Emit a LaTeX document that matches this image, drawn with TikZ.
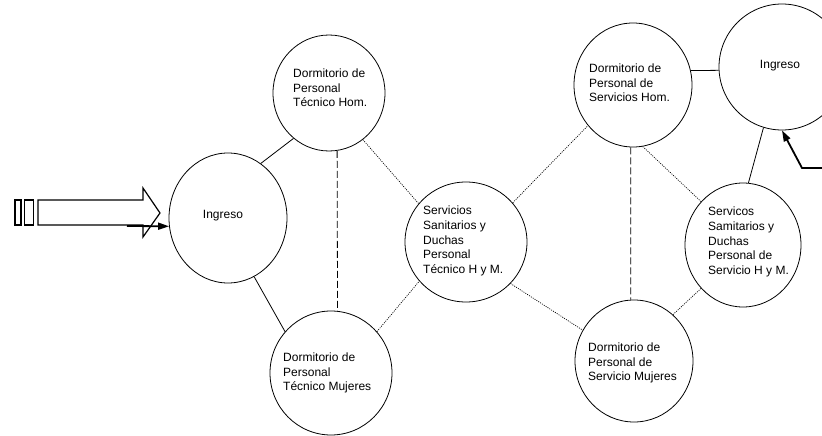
\documentclass[tikz,border=0pt]{standalone}
\usepackage{fontspec}
\setmainfont{Liberation Sans}
\newfontfamily\lblfont{Liberation Sans}
\usetikzlibrary{shapes.geometric,arrows.meta}
\begin{document}
\begin{tikzpicture}[x=1pt,y=-1pt,
  room/.style={ellipse, draw, line width=0.8pt, inner sep=0pt},
  lbl/.style={font=\lblfont\fontsize{12}{14.6}\selectfont, align=left, inner sep=0pt},
  solidlink/.style={line width=0.8pt},
  dashlink/.style={line width=0.8pt, dash pattern=on 7pt off 3pt},
  dotlink/.style={line width=0.7pt, dash pattern=on 1pt off 1.2pt},
  bigarrow/.style={line width=1.8pt, -{Triangle[length=11pt,width=7pt]}},
  blockarrow/.style={draw, line width=1.2pt}]
\useasboundingbox (0,0) rectangle (822,436);
\clip (0,0) rectangle (822,436);
% rooms
\node[room, minimum width=118pt, minimum height=130pt] (IngL) at (228,218) {};
\node[room, minimum width=112pt, minimum height=116pt] (DTH) at (329,93) {};
\node[room, minimum width=122pt, minimum height=124pt] (DTM) at (331,373) {};
\node[room, minimum width=122pt, minimum height=120pt] (SST) at (466,242) {};
\node[room, minimum width=118pt, minimum height=124pt] (DSH) at (633,85) {};
\node[room, minimum width=118pt, minimum height=122pt] (DSM) at (634,361) {};
\node[room, minimum width=116pt, minimum height=124pt] (SSS) at (743,245) {};
\node[room, minimum width=126pt, minimum height=126pt] (IngR) at (782,67) {};
% labels
\node[lbl] (tIngL) at (223,216) {Ingreso};
\node[lbl, anchor=west] (tDTH) at (293,88) {Dormitorio de\\Personal\\Técnico Hom.};
\node[lbl, anchor=west] (tDTM) at (283,373) {Dormitorio de\\Personal\\Técnico Mujeres};
\node[lbl, anchor=west] (tSST) at (423,241) {Servicios\\Sanitarios y\\Duchas\\Personal\\Técnico H y M.};
\node[lbl, anchor=west] (tDSH) at (589,83) {Dormitorio de\\Personal de\\Servicios Hom.};
\node[lbl, anchor=west] (tDSM) at (588,363) {Dormitorio de\\Personal de\\Servicio Mujeres};
\node[lbl, anchor=west] (tSSS) at (708,242) {Servicos\\Samitarios y\\Duchas\\Personal de\\Servicio H y M.};
\node[lbl] (tIngR) at (780,66) {Ingreso};
% connectors
\draw[solidlink] (IngL.59) -- (DTH.232);
\draw[solidlink] (IngL.-66) -- (DTM.138);
\draw[dashlink] (DTH.-82) -- (DTM.84);
\draw[dotlink] (DTH.-54) -- (SST.141);
\draw[dotlink] (DTM.42) -- (SST.220);
\draw[dotlink] (SST.40) -- (DSH.222);
\draw[dotlink] (SST.-43) -- (DSM.149);
\draw[dashlink] (DSH.-92) -- (DSM.93);
\draw[dotlink] (DSH.-81) -- (SSS.134);
\draw[dotlink] (DSM.50) -- (SSS.226);
\draw[solidlink] (DSH.14) -- (IngR.183);
\draw[solidlink] (IngR.253) -- (SSS.85);
% entrance arrow left
\node[blockarrow, minimum width=6pt, minimum height=25pt, inner sep=0pt] (barA) at (18,212.5) {};
\node[blockarrow, minimum width=9pt, minimum height=25pt, inner sep=0pt] (barB) at (29,212.5) {};
\draw[blockarrow, line join=miter] (38,200) -- (143,200) -- (143,188) -- (160,213) -- (143,237) -- (143,225) -- (38,225) -- cycle;
\coordinate (lin) at (127,226);
\draw[bigarrow] (lin) -- (IngL.188);
% entrance arrow right
\coordinate (rin) at (824,168);
\coordinate (rbend) at (802,168);
\draw[bigarrow, line join=miter] (rin) -- (rbend) -- (IngR.south);
\end{tikzpicture}
\end{document}
